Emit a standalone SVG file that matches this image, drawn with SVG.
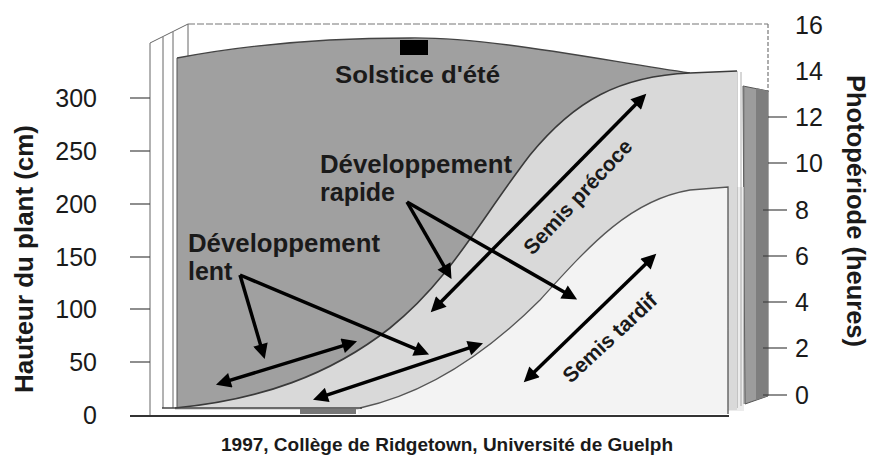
<svg xmlns="http://www.w3.org/2000/svg" width="872" height="457" viewBox="0 0 872 457">
<style>
text{font-family:"Liberation Sans",Arial,sans-serif;fill:#1a1a1a}
.num{font-size:25px}
.lbl{font-size:25px;font-weight:bold}
.ttl{font-size:25px;font-weight:bold}
.tick{stroke:#444;stroke-width:1.2}
.frame{stroke:#666;stroke-width:1;fill:none}
.arr{stroke:#000;stroke-width:3.5;fill:none}
</style>
<defs>
<marker id="ah" viewBox="0 0 10 10" refX="6.7" refY="5" markerWidth="18" markerHeight="15" markerUnits="userSpaceOnUse" orient="auto-start-reverse">
<path d="M0,0 L10,5 L0,10 Z" fill="#000"/>
</marker>
</defs>
<rect width="872" height="457" fill="#fff"/>

<g id="back-panel">
<line x1="188" y1="24" x2="768" y2="24" stroke="#777" stroke-width="1.2" stroke-dasharray="7 2"/>
<line x1="768" y1="24" x2="768" y2="92" stroke="#777" stroke-width="1.2" stroke-dasharray="4 2"/>
<line x1="150" y1="43" x2="188" y2="24" class="frame"/>
<line x1="150" y1="43" x2="150" y2="417" class="frame"/>
<line x1="163" y1="37" x2="163" y2="408" class="frame"/>
<line x1="173" y1="32" x2="173" y2="408" class="frame"/>
<line x1="188" y1="24" x2="188" y2="58" class="frame"/>
</g>

<g id="right-panels">
<polygon points="743,86 768,91 768,396 745,404" fill="#9c9c9c" stroke="#555" stroke-width="1"/>
<polygon points="756,88 768,91 768,396 756,400" fill="#7e7e7e"/>
<rect x="728" y="187" width="16" height="224" fill="#ececec"/>
<line x1="732" y1="187" x2="732" y2="410" stroke="#888" stroke-width="0.8"/>
<line x1="737" y1="71" x2="737" y2="408" stroke="#888" stroke-width="0.8"/>
<line x1="741" y1="72" x2="741" y2="406" stroke="#999" stroke-width="0.8"/>
<line x1="744" y1="86" x2="744" y2="404" stroke="#777" stroke-width="0.8"/>
</g>

<g id="region-solstice">
<path d="M177,58 C250,44 330,38 410,38 C490,37 600,60 690,73 L737,72 L737,410 L177,410 Z" fill="#a0a0a0"/>
<path d="M177,58 C250,44 330,38 410,38 C490,37 600,60 690,73" fill="none" stroke="#444" stroke-width="1.3"/>
<line x1="177" y1="58" x2="177" y2="408" stroke="#555" stroke-width="1"/>
<rect x="400" y="40" width="28" height="15" fill="#000"/>
</g>

<g id="region-precoce">
<path d="M175,408 C260,400 330,375 390,328 C450,280 480,220 530,155 C575,100 620,76 690,73 L737,71 L737,410 L175,410 Z" fill="#d9d9d9"/>
<path d="M175,408 C260,400 330,375 390,328 C450,280 480,220 530,155 C575,100 620,76 690,73 L737,71" fill="none" stroke="#3a3a3a" stroke-width="1.6"/>
</g>

<g id="region-tardif">
<path d="M358,410 L360,408 C420,395 480,360 540,300 C590,245 630,200 690,190 L728,187 L728,414 L358,414 Z" fill="#f3f3f3"/>
<path d="M360,408 C420,395 480,360 540,300 C590,245 630,200 690,190 L728,187 L728,414" fill="none" stroke="#555" stroke-width="1.3"/>
</g>

<g id="floor">
<line x1="162" y1="408" x2="362" y2="408" stroke="#444" stroke-width="1.5"/>
<rect x="300" y="409" width="56" height="5" fill="#777"/>
<line x1="130" y1="416" x2="729" y2="416" stroke="#333" stroke-width="2.2"/>
</g>

<g id="left-axis">
<line x1="130" y1="98" x2="150" y2="98" class="tick"/>
<line x1="130" y1="151" x2="150" y2="151" class="tick"/>
<line x1="130" y1="204" x2="150" y2="204" class="tick"/>
<line x1="130" y1="257" x2="150" y2="257" class="tick"/>
<line x1="130" y1="309" x2="150" y2="309" class="tick"/>
<line x1="130" y1="362" x2="150" y2="362" class="tick"/>
<g class="num" text-anchor="end">
<text x="97" y="107">300</text>
<text x="97" y="160">250</text>
<text x="97" y="213">200</text>
<text x="97" y="266">150</text>
<text x="97" y="318">100</text>
<text x="97" y="371">50</text>
<text x="97" y="424">0</text>
</g>
<text class="ttl" text-anchor="middle" transform="translate(33,259) rotate(-90)" textLength="268" lengthAdjust="spacingAndGlyphs">Hauteur du plant (cm)</text>
</g>

<g id="right-axis">
<line x1="768" y1="117" x2="787" y2="117" class="tick"/>
<line x1="768" y1="163" x2="787" y2="163" class="tick"/>
<line x1="763" y1="210" x2="787" y2="210" class="tick"/>
<line x1="763" y1="256" x2="787" y2="256" class="tick"/>
<line x1="763" y1="302" x2="787" y2="302" class="tick"/>
<line x1="763" y1="348" x2="787" y2="348" class="tick"/>
<line x1="763" y1="395" x2="787" y2="395" class="tick"/>
<g class="num">
<text x="795" y="34">16</text>
<text x="795" y="80">14</text>
<text x="795" y="126">12</text>
<text x="795" y="172">10</text>
<text x="795" y="219">8</text>
<text x="795" y="265">6</text>
<text x="795" y="311">4</text>
<text x="795" y="357">2</text>
<text x="795" y="404">0</text>
</g>
<text class="ttl" text-anchor="middle" transform="translate(847,211) rotate(90)" textLength="272" lengthAdjust="spacingAndGlyphs">Photopériode (heures)</text>
</g>

<g id="labels">
<text x="417.5" y="83" font-size="24" font-weight="bold" text-anchor="middle" textLength="165" lengthAdjust="spacingAndGlyphs">Solstice d'été</text>
<text class="lbl" x="320" y="173" textLength="192" lengthAdjust="spacingAndGlyphs">Développement</text>
<text class="lbl" x="320" y="201">rapide</text>
<text class="lbl" x="188" y="252" textLength="192" lengthAdjust="spacingAndGlyphs">Développement</text>
<text class="lbl" x="188" y="280">lent</text>
<text font-size="21" font-weight="bold" text-anchor="middle" transform="translate(578,197) rotate(-47)" y="7">Semis précoce</text>
<text font-size="21" font-weight="bold" text-anchor="middle" transform="translate(610,338) rotate(-43)" y="7">Semis tardif</text>
<text x="447" y="451" font-size="18.5" font-weight="bold" text-anchor="middle" textLength="452" lengthAdjust="spacingAndGlyphs">1997, Collège de Ridgetown, Université de Guelph</text>
</g>

<g id="connectors">
<line class="arr" x1="240" y1="275" x2="263.3" y2="354.2" marker-end="url(#ah)"/>
<line class="arr" x1="240" y1="275" x2="424.5" y2="352.7" marker-end="url(#ah)"/>
<line class="arr" x1="407" y1="202" x2="449" y2="274.8" marker-end="url(#ah)"/>
<line class="arr" x1="407" y1="202" x2="572.8" y2="297" marker-end="url(#ah)"/>
<line class="arr" x1="220.7" y1="383.2" x2="352.3" y2="342.8" marker-start="url(#ah)" marker-end="url(#ah)"/>
<line class="arr" x1="317.7" y1="398.1" x2="478.3" y2="344.9" marker-start="url(#ah)" marker-end="url(#ah)"/>
<line class="arr" x1="434.2" y1="308.7" x2="642.8" y2="97.3" marker-start="url(#ah)" marker-end="url(#ah)"/>
<line class="arr" x1="527.3" y1="378.8" x2="652.7" y2="257.2" marker-start="url(#ah)" marker-end="url(#ah)"/>
</g>
</svg>
